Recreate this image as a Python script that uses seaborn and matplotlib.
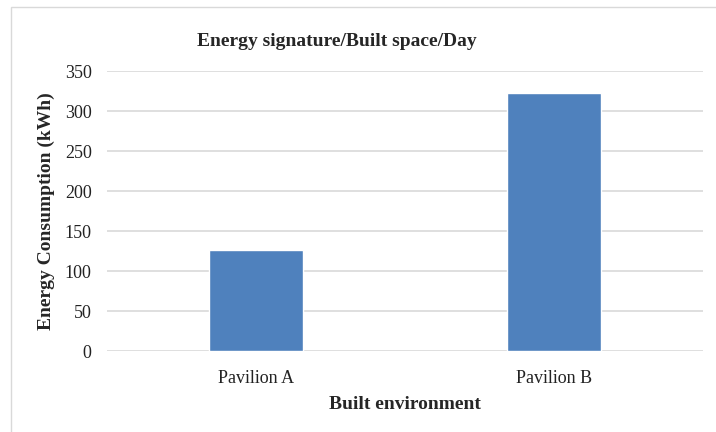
import matplotlib
matplotlib.use("Agg")
import matplotlib.pyplot as plt
import seaborn as sns
import pandas as pd
from matplotlib.patches import Rectangle

categories = ["Pavilion A", "Pavilion B"]
consumption = [126, 322]
y_ticks = [0, 50, 100, 150, 200, 250, 300, 350]

sns.set_theme(style="white")
plt.rcParams["font.family"] = ["Liberation Serif", "DejaVu Serif"]

df = pd.DataFrame({"Built environment": categories, "Energy": consumption})

fig = plt.figure(figsize=(7.16, 4.32), dpi=100)
ax = fig.add_axes([107 / 716, 81 / 432, 596 / 716, 280 / 432])

sns.barplot(data=df, x="Built environment", y="Energy", color="#4F81BD",
            saturation=1, width=0.315, ax=ax, zorder=3)

ax.set_ylim(0, 350)
ax.set_xlim(-0.5, 1.5)
ax.set_yticks(y_ticks)
ax.set_yticklabels([str(t) for t in y_ticks])
ax.yaxis.grid(True, color="#D9D9D9", linewidth=1.2, zorder=0)
ax.set_axisbelow(True)
for s in ax.spines.values():
    s.set_visible(False)
ax.tick_params(axis="both", length=0, labelsize=13, colors="#222222")
ax.tick_params(axis="y", pad=11)
ax.tick_params(axis="x", pad=14)

ax.set_xlabel("Built environment", fontsize=14, fontweight="bold", labelpad=6)
ax.set_ylabel("Energy Consumption (kWh)", fontsize=14, fontweight="bold", labelpad=7)
fig.text(337 / 716, 1 - 41 / 432, "Energy signature/Built space/Day",
         ha="center", va="center", fontsize=14, fontweight="bold")

# light frame around the chart area
fig.patches.append(Rectangle((11 / 716, -0.1), 1.2, 1 - 7 / 432 + 0.1,
                             transform=fig.transFigure, fill=False,
                             edgecolor="#D9D9D9", linewidth=1.0))

fig.savefig("out.png", dpi=100)
